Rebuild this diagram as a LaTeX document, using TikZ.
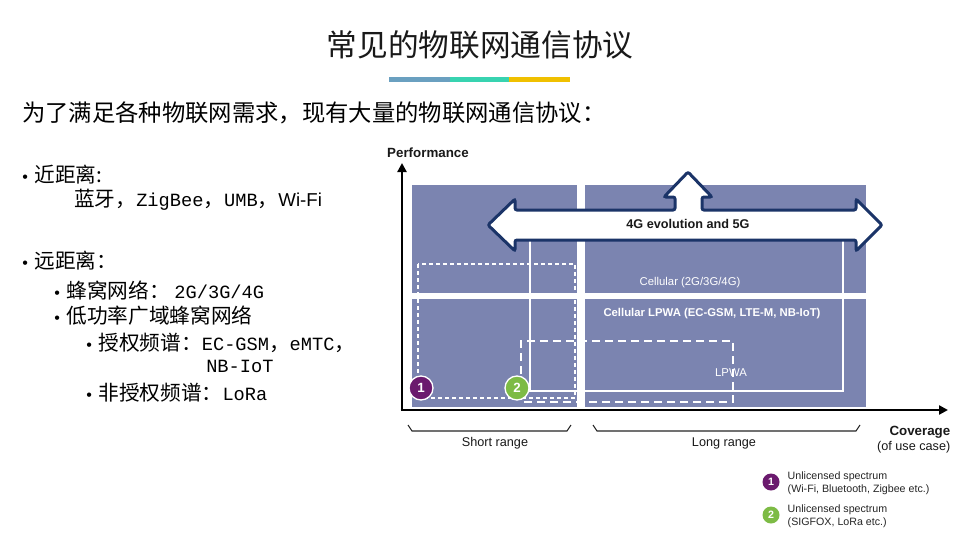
\documentclass[tikz,border=0pt]{standalone}
\usepackage{fontspec}
\setmainfont{Liberation Sans}
\newfontfamily\cjk{Noto Sans CJK SC}
\newfontfamily\mono{Liberation Mono}
\usetikzlibrary{arrows.meta}
\newcommand{\lm}[1]{{\mono\fontsize{14}{16}\selectfont #1}}
\newcommand{\bl}{{\rmfamily\fontsize{12}{14}\selectfont•}\hspace{5pt}}
\begin{document}
\begin{tikzpicture}[x=0.75pt,y=-0.75pt,
  blk/.style={fill=blockc,draw=none},
  lbl/.style={font=\fontsize{9.5}{11}\selectfont, text=gray!20!black},
  wlbl/.style={font=\fontsize{8.5}{10}\selectfont, text=white},
  num/.style={circle,draw=white,line width=1pt,minimum size=18pt,inner sep=0pt,text=white,font=\bfseries\fontsize{10}{10}\selectfont},
  lnum/.style={circle,minimum size=12.75pt,inner sep=0pt,text=white,font=\bfseries\fontsize{8}{8}\selectfont},
  leg/.style={font=\fontsize{8}{9.5}\selectfont,text=gray!30!black,align=left,anchor=west},
  bul/.style={anchor=west,inner sep=0pt,font=\cjk\fontsize{15.5}{19}\selectfont}]
\definecolor{blockc}{HTML}{7B84B0}
\definecolor{navy}{HTML}{1B3468}
\definecolor{purp}{HTML}{6B1A6E}
\definecolor{grn}{HTML}{7DBB45}
\useasboundingbox[fill=white] (0,0) rectangle (959,539);
% title
\node[font=\cjk\fontsize{23}{26}\selectfont,text=gray!20!black] (title) at (480,45) {常见的物联网通信协议};
\fill[fill={rgb,255:red,106;green,160;blue,192}] (389,77) rectangle (450,82);
\fill[fill={rgb,255:red,56;green,211;blue,176}] (450,77) rectangle (509,82);
\fill[fill={rgb,255:red,240;green,192;blue,0}] (509,77) rectangle (570,82);
\node[anchor=west,inner sep=0pt,font=\cjk\fontsize{17.5}{20}\selectfont] (sub) at (22,113) {为了满足各种物联网需求，现有大量的物联网通信协议：};
% bullets
\node[bul] (b1) at (22,175) {\bl 近距离:};
\node[bul] (b1a) at (74,200) {蓝牙，\lm{ZigBee}，\lm{UMB}，{\rmfamily\fontsize{14}{16}\selectfont Wi-Fi}};
\node[bul] (b2) at (22,261) {\bl 远距离：};
\node[bul] (b2a) at (54,290) {\bl 蜂窝网络： \lm{2G/3G/4G}};
\node[bul] (b2b) at (54,316) {\bl 低功率广域蜂窝网络};
\node[bul] (b2c) at (86,343) {\bl 授权频谱：\lm{EC-GSM}，\lm{eMTC}，};
\node[bul] (b2d) at (206,366) {\lm{NB-IoT}};
\node[bul] (b2e) at (86,393) {\bl 非授权频谱：\lm{LoRa}};
% chart
\fill[blk] (412,185) rectangle (577,293);
\fill[blk] (412,299) rectangle (577,407);
\fill[blk] (585,185) rectangle (866,293);
\fill[blk] (585,299) rectangle (866,407);
\draw[white,line width=1.5pt] (530,240) -- (530,391) -- (843,391) -- (843,240);
\draw[white,line width=1pt,dash pattern=on 3pt off 2.25pt] (418,264) rectangle (575,398);
\draw[white,line width=1.5pt,dash pattern=on 6pt off 3.75pt] (521,400) -- (521,341) -- (733,341) -- (733,402) -- (521,402);
\draw[navy,line width=2.25pt,fill=white,rounded corners=1.5pt]
 (488,225) -- (515,199) -- (515,210) -- (675,210) -- (675,197) -- (664,197) -- (688,172)
 -- (712,197) -- (702,197) -- (702,210) -- (856,210) -- (856,199) -- (882,225)
 -- (856,251) -- (856,240) -- (515,240) -- (515,251) -- cycle;
\node[font=\bfseries\fontsize{9.5}{11}\selectfont,text=gray!20!black] (evo) at (688,224) {4G evolution and 5G};
\node[wlbl] (cell) at (690,283) {Cellular (2G/3G/4G)};
\node[wlbl,font=\bfseries\fontsize{8.5}{10}\selectfont] (clp) at (712,314) {Cellular LPWA (EC-GSM, LTE-M, NB-IoT)};
\node[wlbl] (lpwa) at (731,373) {LPWA};
\node[num,fill=purp] (n1) at (421,388) {1};
\node[num,fill=grn] (n2) at (517,388) {2};
% axes
\coordinate (o) at (402,410);
\coordinate (yt) at (402,163);
\coordinate (xt) at (948,410);
\draw[line width=1.9pt,-{Triangle[width=6.75pt,length=6.75pt]}] (o) -- (yt);
\draw[line width=1.9pt,-{Triangle[width=6.75pt,length=6.75pt]}] ([xshift=-0.95pt]o) -- (xt);
\node[font=\bfseries\fontsize{10}{12}\selectfont,text=gray!20!black] (perf) at (428,153) {Performance};
\node[font=\bfseries\fontsize{10}{12}\selectfont,text=gray!20!black,anchor=east] (cov) at (955,432) {Coverage};
\node[lbl,anchor=east] (cov2) at (955,447) {(of use case)};
\draw[gray!30!black,line width=0.8pt] (408,425) -- (412,431) -- (567,431) -- (571,425);
\draw[gray!30!black,line width=0.8pt] (593,425) -- (597,431) -- (856,431) -- (860,425);
\node[lbl] (sr) at (495,443) {Short range};
\node[lbl] (lr) at (724,443) {Long range};
% legend
\node[lnum,fill=purp] (l1) at (771,482) {1};
\node[lnum,fill=grn] (l2) at (771,515) {2};
\node[leg] (t1) at (783,483) {Unlicensed spectrum\\(Wi-Fi, Bluetooth, Zigbee etc.)};
\node[leg] (t2) at (783,516) {Unlicensed spectrum\\(SIGFOX, LoRa etc.)};
\end{tikzpicture}
\end{document}
